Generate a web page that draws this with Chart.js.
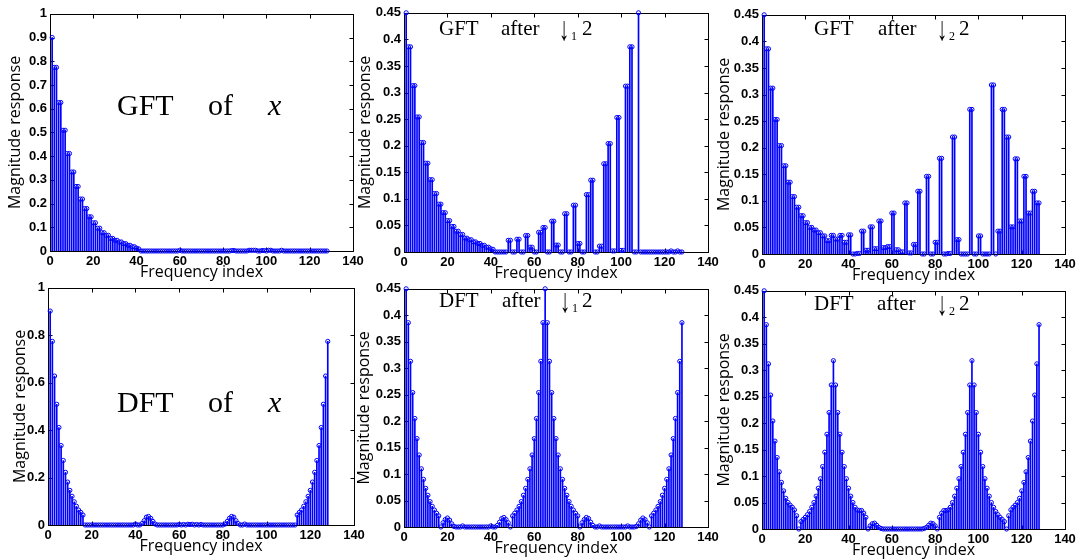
<!DOCTYPE html>
<html>
<head>
<meta charset="utf-8">
<script src="https://cdn.jsdelivr.net/npm/chart.js@4.4.0/dist/chart.umd.min.js"></script>
<style>
  html, body { margin: 0; padding: 0; background: #fff; }
  #fig { position: relative; width: 1077px; height: 560px; overflow: hidden; background: #fff; }
  #fig canvas { position: absolute; }
  .note { position: absolute; font-family: "Liberation Serif", "Times New Roman", serif; color: #000; white-space: nowrap; line-height: 1; }
</style>
</head>
<body>
<div id="fig"></div>
<script>
// frequency index 1..128 (x positions of the stems)
const freqIndex = Array.from({ length: 128 }, (_, i) => i + 1);

const xTickValues = [0, 20, 40, 60, 80, 100, 120, 140];
const yTicksGftX = [0, 0.1, 0.2, 0.3, 0.4, 0.5, 0.6, 0.7, 0.8, 0.9, 1];
const yTicksDftX = [0, 0.2, 0.4, 0.6, 0.8, 1];
const yTicksHalf = [0, 0.05, 0.1, 0.15, 0.2, 0.25, 0.3, 0.35, 0.4, 0.45];

const gftOfX = [
  0.9, 0.774, 0.774, 0.626, 0.626, 0.509, 0.509, 0.411, 0.411, 0.333, 0.333, 0.272, 0.272, 0.219, 0.219, 0.179,
  0.179, 0.144, 0.144, 0.119, 0.119, 0.096, 0.096, 0.077, 0.077, 0.066, 0.066, 0.053, 0.053, 0.045, 0.045, 0.038,
  0.038, 0.031, 0.031, 0.024, 0.024, 0.018, 0.018, 0.012, 0.009, 0, 0, 0, 0, 0, 0, 0,
  0, 0, 0, 0, 0, 0, 0, 0, 0, 0, 0, 0.003, 0, 0, 0, 0,
  0, 0, 0, 0, 0, 0, 0, 0, 0, 0, 0, 0, 0, 0, 0, 0,
  0, 0, 0, 0.002, 0.002, 0, 0, 0, 0, 0, 0, 0.003, 0.003, 0.003, 0.003, 0,
  0, 0.002, 0.002, 0, 0.003, 0.003, 0, 0, 0, 0, 0.003, 0, 0, 0, 0, 0,
  0, 0, 0, 0, 0, 0, 0, 0, 0, 0, 0, 0, 0, 0, 0, 0
];

const gftAfterDown1 = [
  0.45, 0.386, 0.386, 0.313, 0.313, 0.254, 0.254, 0.206, 0.206, 0.167, 0.167, 0.136, 0.136, 0.110, 0.110, 0.090,
  0.090, 0.074, 0.074, 0.059, 0.059, 0.048, 0.048, 0.039, 0.039, 0.033, 0.033, 0.026, 0.026, 0.023, 0.023, 0.019,
  0.019, 0.016, 0.016, 0.0125, 0.0125, 0.009, 0.009, 0.006, 0.005, 0, 0, 0, 0, 0, 0, 0.022,
  0.022, 0, 0, 0.024, 0.024, 0, 0, 0.031, 0.031, 0.009, 0.009, 0, 0, 0.037, 0.037, 0.046,
  0.046, 0, 0, 0.058, 0.058, 0.013, 0.013, 0, 0, 0.072, 0.072, 0, 0, 0.088, 0.088, 0.016,
  0.016, 0, 0, 0.108, 0.108, 0.135, 0.135, 0, 0, 0.011, 0.011, 0.166, 0.166, 0.204, 0.204, 0.002,
  0.002, 0.253, 0.253, 0.003, 0.003, 0.312, 0.312, 0.386, 0.386, 0, 0, 0.45, 0, 0, 0, 0,
  0, 0, 0, 0, 0, 0, 0, 0, 0, 0, 0.002, 0, 0, 0.002, 0, 0
];

const gftAfterDown2 = [
  0.45, 0.386, 0.386, 0.312, 0.312, 0.253, 0.253, 0.204, 0.204, 0.166, 0.166, 0.135, 0.135, 0.108, 0.108, 0.088,
  0.088, 0.072, 0.072, 0.059, 0.059, 0.050, 0.050, 0.045, 0.045, 0.040, 0.040, 0.034, 0.034, 0.025, 0.025, 0.035,
  0.035, 0.028, 0.028, 0.035, 0.035, 0.022, 0.022, 0.036, 0.036, 0, 0, 0.001, 0.001, 0.043, 0.043, 0.007,
  0.007, 0.051, 0.051, 0.010, 0.010, 0.062, 0.062, 0.012, 0.012, 0.014, 0.014, 0.077, 0.077, 0.008, 0.008, 0.004,
  0.004, 0.096, 0.096, 0.002, 0.002, 0.018, 0.018, 0.118, 0.118, 0, 0, 0.146, 0.146, 0, 0, 0.022,
  0.022, 0.180, 0.180, 0, 0, 0.001, 0.001, 0.220, 0.220, 0.027, 0.027, 0, 0, 0, 0, 0.272,
  0.272, 0, 0, 0.034, 0.034, 0, 0, 0, 0, 0.318, 0.318, 0, 0.043, 0.043, 0.272, 0.272,
  0.220, 0.220, 0.051, 0.051, 0.179, 0.179, 0.062, 0.062, 0.146, 0.146, 0.077, 0.077, 0.118, 0.118, 0.096, 0.096
];

const dftOfX = [
  0.902, 0.774, 0.628, 0.509, 0.411, 0.335, 0.272, 0.222, 0.181, 0.146, 0.121, 0.098, 0.079, 0.063, 0.053, 0.042,
  0, 0, 0, 0, 0, 0, 0, 0, 0, 0, 0, 0, 0, 0, 0, 0,
  0, 0, 0, 0, 0, 0, 0, 0.004, 0, 0, 0.006, 0.018, 0.033, 0.036, 0.028, 0.015,
  0.004, 0, 0, 0, 0, 0, 0, 0, 0, 0, 0, 0.002, 0, 0.002, 0, 0.003,
  0.002, 0.003, 0, 0.002, 0, 0.002, 0, 0, 0, 0, 0, 0, 0, 0, 0, 0,
  0.004, 0.015, 0.028, 0.036, 0.033, 0.018, 0.006, 0, 0, 0.004, 0, 0, 0, 0, 0, 0,
  0, 0, 0, 0, 0, 0, 0, 0, 0, 0, 0, 0, 0, 0, 0, 0,
  0, 0.042, 0.053, 0.063, 0.079, 0.098, 0.121, 0.146, 0.181, 0.222, 0.272, 0.335, 0.411, 0.509, 0.628, 0.774
];

const dftAfterDown1 = [
  0.45, 0.386, 0.313, 0.254, 0.205, 0.167, 0.136, 0.110, 0.090, 0.073, 0.060, 0.048, 0.039, 0.032, 0.026, 0.021,
  0, 0.008, 0.014, 0.017, 0.013, 0.006, 0.001, 0, 0, 0, 0.002, 0, 0, 0, 0, 0,
  0, 0, 0, 0, 0, 0, 0, 0.002, 0, 0, 0.003, 0.009, 0.016, 0.018, 0.014, 0.008,
  0, 0.021, 0.026, 0.032, 0.039, 0.048, 0.060, 0.073, 0.090, 0.110, 0.136, 0.167, 0.205, 0.254, 0.313, 0.386,
  0.45, 0.386, 0.313, 0.254, 0.205, 0.167, 0.136, 0.110, 0.090, 0.073, 0.060, 0.048, 0.039, 0.032, 0.026, 0.021,
  0, 0.008, 0.014, 0.018, 0.016, 0.009, 0.003, 0, 0, 0.002, 0, 0, 0, 0, 0, 0,
  0, 0, 0, 0, 0, 0, 0.002, 0, 0, 0, 0.001, 0.006, 0.013, 0.017, 0.014, 0.008,
  0, 0.021, 0.026, 0.032, 0.039, 0.048, 0.060, 0.073, 0.090, 0.110, 0.136, 0.167, 0.205, 0.254, 0.313, 0.386
];

const dftAfterDown2 = [
  0.45, 0.386, 0.312, 0.253, 0.204, 0.166, 0.135, 0.108, 0.088, 0.072, 0.058, 0.050, 0.045, 0.041, 0.036, 0.025,
  0, 0.014, 0.018, 0.022, 0.027, 0.033, 0.041, 0.050, 0.062, 0.077, 0.095, 0.118, 0.145, 0.179, 0.220, 0.272,
  0.318, 0.272, 0.220, 0.179, 0.145, 0.118, 0.095, 0.077, 0.062, 0.050, 0.041, 0.036, 0.035, 0.035, 0.030, 0.022,
  0, 0.006, 0.010, 0.011, 0.007, 0.003, 0.001, 0, 0, 0, 0, 0, 0, 0, 0, 0,
  0, 0, 0, 0, 0, 0, 0, 0, 0, 0, 0.001, 0.003, 0.007, 0.011, 0.010, 0.006,
  0, 0.022, 0.030, 0.035, 0.035, 0.036, 0.041, 0.050, 0.062, 0.077, 0.095, 0.118, 0.145, 0.179, 0.220, 0.272,
  0.318, 0.272, 0.220, 0.179, 0.145, 0.118, 0.095, 0.077, 0.062, 0.050, 0.041, 0.033, 0.027, 0.022, 0.018, 0.014,
  0, 0.025, 0.036, 0.041, 0.045, 0.050, 0.058, 0.072, 0.088, 0.108, 0.135, 0.166, 0.204, 0.253, 0.312, 0.386
];

// plot boxes in page pixels (L,R,T,B) and width reserved for y ticks + title
const panels = [
  { values: gftOfX,        yMax: 1,    yTicks: yTicksGftX, L: 50,  R: 353,  T: 12,  B: 251, yw: 44 },
  { values: gftAfterDown1, yMax: 0.45, yTicks: yTicksHalf, L: 404, R: 708,  T: 11,  B: 252, yw: 48 },
  { values: gftAfterDown2, yMax: 0.45, yTicks: yTicksHalf, L: 762, R: 1065, T: 13,  B: 254, yw: 47 },
  { values: dftOfX,        yMax: 1,    yTicks: yTicksDftX, L: 48,  R: 354,  T: 286, B: 525, yw: 37 },
  { values: dftAfterDown1, yMax: 0.45, yTicks: yTicksHalf, L: 404, R: 708,  T: 287, B: 527, yw: 49 },
  { values: dftAfterDown2, yMax: 0.45, yTicks: yTicksHalf, L: 762, R: 1065, T: 289, B: 529, yw: 47 }
];

// annotation words: left x, baseline y, font size; arrows are drawn taller and narrower
const notes = [
  { t: 'GFT', x: 117, b: 115, s: 30 }, { t: 'of', x: 208, b: 115, s: 30 }, { t: 'x', x: 268, b: 115, s: 30, it: true },
  { t: 'GFT', x: 439, b: 36, s: 21 }, { t: 'after', x: 501, b: 36, s: 21 }, { t: '↓', x: 559, b: 40, s: 34, arrow: true }, { t: '1', x: 571, b: 40, s: 12 }, { t: '2', x: 582, b: 36, s: 21 },
  { t: 'GFT', x: 814, b: 36, s: 21 }, { t: 'after', x: 878, b: 36, s: 21 }, { t: '↓', x: 937, b: 40, s: 34, arrow: true }, { t: '2', x: 949, b: 40, s: 12 }, { t: '2', x: 959, b: 36, s: 21 },
  { t: 'DFT', x: 117, b: 412, s: 30 }, { t: 'of', x: 208, b: 412, s: 30 }, { t: 'x', x: 268, b: 412, s: 30, it: true },
  { t: 'DFT', x: 439, b: 308, s: 21 }, { t: 'after', x: 502, b: 308, s: 21 }, { t: '↓', x: 560, b: 312, s: 34, arrow: true }, { t: '1', x: 572, b: 312, s: 12 }, { t: '2', x: 582, b: 308, s: 21 },
  { t: 'DFT', x: 814, b: 311, s: 21 }, { t: 'after', x: 877, b: 311, s: 21 }, { t: '↓', x: 937, b: 315, s: 34, arrow: true }, { t: '2', x: 949, b: 315, s: 12 }, { t: '2', x: 959, b: 311, s: 21 }
];

const BLUE = '#0000ff';
const PAD_TOP = 9, PAD_RIGHT = 14, X_AXIS_H = 34;
const TICK_FONT = { family: "Arial, 'Liberation Sans', sans-serif", size: 13, weight: 'bold' };
const TITLE_FONT = { family: "'Open Sans', sans-serif", size: 16 };

// matlab style box with inward ticks on all four sides
const boxPlugin = {
  id: 'matlabBox',
  beforeDatasetsDraw(chart) {
    const { ctx, chartArea: a, scales: { x, y } } = chart;
    ctx.save();
    ctx.strokeStyle = '#000';
    ctx.lineWidth = 1;
    const l = Math.round(a.left) + 0.5, r = Math.round(a.right) + 0.5;
    const t = Math.round(a.top) + 0.5, b = Math.round(a.bottom) + 0.5;
    ctx.strokeRect(l, t, r - l, b - t);
    ctx.beginPath();
    x.ticks.forEach(tk => {
      const px = Math.round(x.getPixelForValue(tk.value)) + 0.5;
      ctx.moveTo(px, b); ctx.lineTo(px, b - 4);
      ctx.moveTo(px, t); ctx.lineTo(px, t + 4);
    });
    y.ticks.forEach(tk => {
      const py = Math.round(y.getPixelForValue(tk.value)) + 0.5;
      ctx.moveTo(l, py); ctx.lineTo(l + 4, py);
      ctx.moveTo(r, py); ctx.lineTo(r - 4, py);
    });
    ctx.stroke();
    ctx.restore();
  }
};

const fig = document.getElementById('fig');

panels.forEach((p, i) => {
  if (p.values.length !== freqIndex.length) throw new Error('panel ' + (i + 1) + ' has ' + p.values.length + ' values');
  const cv = document.createElement('canvas');
  cv.width = p.yw + (p.R - p.L) + PAD_RIGHT;
  cv.height = PAD_TOP + (p.B - p.T) + X_AXIS_H;
  cv.style.left = (p.L - p.yw) + 'px';
  cv.style.top = (p.T - PAD_TOP) + 'px';
  fig.appendChild(cv);

  const pts = p.values.map((v, k) => ({ x: freqIndex[k], y: v }));
  new Chart(cv, {
    type: 'bar',
    data: {
      datasets: [
        { type: 'bar', data: pts, backgroundColor: BLUE, barThickness: 1, borderWidth: 0, order: 2 },
        { type: 'line', data: pts, showLine: false, pointRadius: 2.1, pointBorderWidth: 1,
          pointBorderColor: BLUE, pointBackgroundColor: 'rgba(0,0,0,0)', clip: false, order: 1 }
      ]
    },
    options: {
      responsive: false, animation: false,
      layout: { padding: { top: PAD_TOP, right: PAD_RIGHT, left: 0, bottom: 0 } },
      plugins: { legend: { display: false }, tooltip: { enabled: false } },
      scales: {
        x: {
          type: 'linear', min: 0, max: 140, offset: false,
          grid: { display: false, drawTicks: false }, border: { display: false },
          afterBuildTicks: s => { s.ticks = xTickValues.map(v => ({ value: v })); },
          ticks: { padding: 3, color: '#000', maxRotation: 0, autoSkip: false, font: TICK_FONT },
          title: { display: true, text: 'Frequency index', color: '#000', font: TITLE_FONT,
            padding: { top: 0, bottom: 3 } },
          afterFit: s => { s.height = X_AXIS_H; }
        },
        y: {
          min: 0, max: p.yMax,
          grid: { display: false, drawTicks: false }, border: { display: false },
          afterBuildTicks: s => { s.ticks = p.yTicks.map(v => ({ value: v })); },
          ticks: { padding: 3, color: '#000', callback: v => String(+v.toFixed(2)), font: TICK_FONT },
          title: { display: true, text: 'Magnitude response', color: '#000', font: TITLE_FONT, padding: 0 },
          afterFit: s => { s.width = p.yw; }
        }
      }
    },
    plugins: [boxPlugin]
  });
});

notes.forEach(n => {
  const d = document.createElement('div');
  d.className = 'note';
  d.textContent = n.t;
  d.style.fontSize = n.s + 'px';
  d.style.left = n.x + 'px';
  d.style.top = (n.b - 0.8375 * n.s) + 'px';
  if (n.it) d.style.fontStyle = 'italic';
  if (n.arrow) { d.style.transform = 'scaleX(0.6)'; d.style.transformOrigin = 'left bottom'; }
  fig.appendChild(d);
});
</script>
</body>
</html>
